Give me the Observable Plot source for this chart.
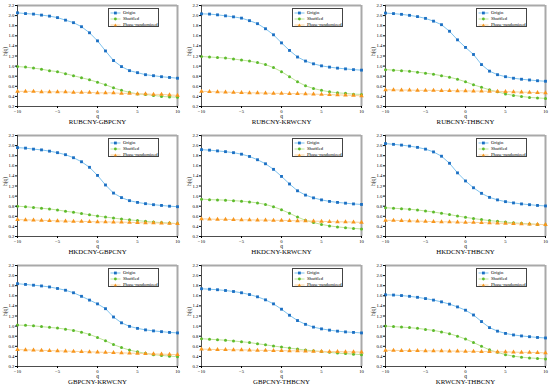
<!DOCTYPE html>
<html><head><meta charset="utf-8">
<script src="https://cdn.jsdelivr.net/npm/d3@7"></script>
<script src="https://cdn.jsdelivr.net/npm/@observablehq/plot@0.6"></script>
<style>
body{margin:0;background:#fff;}
#root{position:relative;width:550px;height:390px;overflow:hidden;font-family:"Liberation Serif","Times New Roman",serif;}
.panel{position:absolute;width:184px;height:130px;}
.legend{position:absolute;border:0.6px solid #444;background:#fff;box-sizing:border-box;width:51px;height:19px;padding-top:0.5px;}
.lrow{display:flex;align-items:center;height:6px;font-size:4.7px;line-height:6px;color:#000;}
.lrow svg{margin:0 2px 0 1px;}
</style></head>
<body><div id="root"></div>
<script>
// q values (x axis)
const q = [-10,-9,-8,-7,-6,-5,-4,-3,-2,-1,0,1,2,3,4,5,6,7,8,9,10];
const xDomain = [-10, 10];
const xTicks = [-10, -5, 0, 5, 10];
const yDomain = [0.2, 2.2];
const yTicks = [0.2,0.4,0.6,0.8,1.0,1.2,1.4,1.6,1.8,2.0,2.2];
const seriesNames = ["Origin", "Shuffled", "Phase-randomized"];
const titles = ["RUBCNY-GBPCNY","RUBCNY-KRWCNY","RUBCNY-THBCNY","HKDCNY-GBPCNY","HKDCNY-KRWCNY","HKDCNY-THBCNY","GBPCNY-KRWCNY","GBPCNY-THBCNY","KRWCNY-THBCNY"];

// Panel 1 RUBCNY-GBPCNY
const origin1 = [2.055,2.04,2.03,2.01,1.99,1.96,1.91,1.86,1.78,1.66,1.50,1.30,1.11,0.99,0.91,0.87,0.83,0.81,0.79,0.775,0.76];
const shuffled1 = [0.99,0.98,0.96,0.94,0.91,0.89,0.85,0.81,0.77,0.73,0.68,0.63,0.57,0.52,0.48,0.45,0.44,0.42,0.40,0.39,0.385];
const phase1 = [0.50,0.50,0.50,0.49,0.49,0.49,0.49,0.48,0.48,0.48,0.47,0.47,0.47,0.46,0.46,0.45,0.45,0.44,0.44,0.43,0.42];
// Panel 2 RUBCNY-KRWCNY
const origin2 = [2.035,2.03,2.015,1.995,1.975,1.95,1.90,1.84,1.74,1.62,1.46,1.31,1.18,1.10,1.045,1.005,0.98,0.96,0.945,0.93,0.92];
const shuffled2 = [1.19,1.18,1.17,1.16,1.14,1.12,1.10,1.07,1.03,0.97,0.89,0.79,0.69,0.61,0.556,0.52,0.49,0.47,0.46,0.445,0.44];
const phase2 = [0.50,0.495,0.49,0.485,0.48,0.475,0.47,0.47,0.465,0.46,0.46,0.455,0.455,0.45,0.445,0.44,0.435,0.43,0.425,0.42,0.41];
// Panel 3 RUBCNY-THBCNY
const origin3 = [2.05,2.04,2.025,2.005,1.98,1.945,1.89,1.82,1.69,1.52,1.37,1.23,1.03,0.90,0.83,0.79,0.76,0.74,0.725,0.71,0.70];
const shuffled3 = [0.93,0.92,0.91,0.90,0.88,0.86,0.84,0.81,0.78,0.74,0.69,0.63,0.58,0.53,0.49,0.45,0.42,0.40,0.38,0.37,0.36];
const phase3 = [0.53,0.53,0.525,0.525,0.52,0.52,0.52,0.515,0.515,0.51,0.51,0.505,0.505,0.50,0.50,0.495,0.49,0.485,0.48,0.475,0.47];
// Panel 4 HKDCNY-GBPCNY
const origin4 = [1.96,1.95,1.93,1.915,1.89,1.86,1.82,1.76,1.68,1.57,1.41,1.22,1.06,0.97,0.91,0.875,0.85,0.83,0.815,0.80,0.79];
const shuffled4 = [0.80,0.79,0.775,0.76,0.745,0.725,0.70,0.68,0.655,0.63,0.605,0.585,0.565,0.545,0.53,0.515,0.50,0.485,0.475,0.465,0.455];
const phase4 = [0.535,0.53,0.525,0.52,0.515,0.51,0.505,0.50,0.50,0.495,0.49,0.49,0.485,0.485,0.48,0.475,0.47,0.47,0.465,0.46,0.455];
// Panel 5 HKDCNY-KRWCNY
const origin5 = [1.92,1.91,1.895,1.88,1.86,1.83,1.785,1.72,1.64,1.53,1.39,1.24,1.105,1.02,0.965,0.925,0.895,0.875,0.86,0.845,0.835];
const shuffled5 = [0.94,0.93,0.925,0.92,0.91,0.90,0.885,0.865,0.835,0.79,0.73,0.66,0.585,0.52,0.475,0.44,0.41,0.39,0.375,0.36,0.35];
const phase5 = [0.55,0.545,0.54,0.54,0.535,0.53,0.53,0.525,0.525,0.52,0.52,0.515,0.51,0.51,0.505,0.50,0.495,0.49,0.49,0.485,0.48];
// Panel 6 HKDCNY-THBCNY
const origin6 = [2.04,2.025,2.01,1.99,1.965,1.93,1.875,1.79,1.65,1.46,1.30,1.165,1.055,0.975,0.925,0.89,0.865,0.845,0.83,0.815,0.805];
const shuffled6 = [0.77,0.76,0.75,0.74,0.725,0.705,0.685,0.66,0.635,0.605,0.58,0.555,0.535,0.515,0.50,0.485,0.47,0.46,0.45,0.44,0.435];
const phase6 = [0.52,0.52,0.515,0.51,0.505,0.50,0.495,0.49,0.49,0.485,0.48,0.48,0.475,0.47,0.465,0.46,0.455,0.45,0.445,0.44,0.435];
// Panel 7 GBPCNY-KRWCNY
const origin7 = [1.84,1.825,1.81,1.795,1.775,1.745,1.71,1.66,1.59,1.515,1.44,1.345,1.18,1.065,0.995,0.955,0.925,0.905,0.89,0.875,0.865];
const shuffled7 = [1.02,1.015,1.005,0.99,0.975,0.96,0.94,0.915,0.88,0.835,0.775,0.71,0.635,0.575,0.525,0.49,0.46,0.435,0.42,0.405,0.395];
const phase7 = [0.535,0.53,0.525,0.52,0.515,0.51,0.505,0.50,0.495,0.49,0.485,0.48,0.475,0.47,0.465,0.46,0.455,0.45,0.445,0.44,0.435];
// Panel 8 GBPCNY-THBCNY
const origin8 = [1.74,1.73,1.72,1.705,1.685,1.66,1.625,1.58,1.52,1.44,1.335,1.215,1.11,1.035,0.98,0.945,0.92,0.90,0.885,0.875,0.865];
const shuffled8 = [0.75,0.74,0.73,0.72,0.705,0.69,0.675,0.65,0.63,0.605,0.585,0.565,0.545,0.525,0.51,0.495,0.48,0.465,0.455,0.445,0.435];
const phase8 = [0.545,0.54,0.535,0.535,0.53,0.53,0.525,0.52,0.52,0.515,0.515,0.51,0.51,0.505,0.50,0.50,0.495,0.495,0.49,0.49,0.485];
// Panel 9 KRWCNY-THBCNY
const origin9 = [1.62,1.615,1.605,1.59,1.57,1.545,1.515,1.48,1.435,1.38,1.315,1.22,1.09,0.97,0.90,0.855,0.825,0.805,0.79,0.775,0.765];
const shuffled9 = [1.0,0.99,0.98,0.97,0.955,0.935,0.915,0.885,0.85,0.80,0.745,0.675,0.60,0.53,0.48,0.435,0.405,0.385,0.37,0.36,0.35];
const phase9 = [0.52,0.52,0.515,0.515,0.515,0.51,0.51,0.51,0.505,0.505,0.50,0.50,0.495,0.495,0.49,0.49,0.485,0.48,0.48,0.475,0.47];

const panelSeries = [
  [origin1, shuffled1, phase1],[origin2, shuffled2, phase2],[origin3, shuffled3, phase3],
  [origin4, shuffled4, phase4],[origin5, shuffled5, phase5],[origin6, shuffled6, phase6],
  [origin7, shuffled7, phase7],[origin8, shuffled8, phase8],[origin9, shuffled9, phase9]
];

const lineColors = ["#7fc3ef", "#bfe49a", "#fbd39c"];
const dotColors = ["#1b6fc2", "#5dbb2c", "#f7961e"];
const symbols = ["square", "circle", "triangle"];
const dotR = [1.6, 1.5, 1.7];

const root = document.getElementById("root");

titles.forEach((title, i) => {
  const col = i % 3, row = Math.floor(i / 3);
  const div = document.createElement("div");
  div.className = "panel";
  div.style.left = (col * 184) + "px";
  div.style.top = (row * 130) + "px";
  const marks = [
    Plot.ruleY([yDomain[1]], {stroke: "#a9a9a9", strokeWidth: 2}),
    Plot.ruleX([xDomain[1]], {stroke: "#a9a9a9", strokeWidth: 2}),
    Plot.ruleX([xDomain[0]], {stroke: "#000", strokeWidth: 0.7}),
    Plot.ruleY([yDomain[0]], {stroke: "#000", strokeWidth: 0.7}),
  ];
  panelSeries[i].forEach((vals, s) => {
    const data = q.map((qq, k) => ({q: qq, h: vals[k]}));
    marks.push(Plot.line(data, {x: "q", y: "h", stroke: lineColors[s], strokeWidth: 1}));
  });
  panelSeries[i].forEach((vals, s) => {
    const data = q.map((qq, k) => ({q: qq, h: vals[k]}));
    marks.push(Plot.dot(data, {x: "q", y: "h", symbol: () => symbols[s], fill: dotColors[s], stroke: "none", r: dotR[s]}));
  });
  marks.push(
    Plot.axisX({ticks: xTicks, tickSize: 2, tickPadding: 1.2, label: null, fontSize: 4.7}),
    Plot.axisY({ticks: yTicks, tickSize: 2, tickPadding: 1.2, label: null, fontSize: 4.7, tickFormat: d3.format(".1f")}),
    Plot.text(["q"], {frameAnchor: "bottom", dy: 11, text: d => d, fontSize: 5.5}),
    Plot.text(["h(q)"], {frameAnchor: "left", dx: -12.5, rotate: -90, text: d => d, fontSize: 5.5}),
    Plot.text([title], {frameAnchor: "bottom", dy: 17.5, text: d => d, fontSize: 6.8})
  );
  const svg = Plot.plot({
    width: 184, height: 130,
    marginLeft: 17, marginRight: 7, marginTop: 5, marginBottom: 24,
    style: {fontFamily: "'Liberation Serif','Times New Roman',serif", background: "transparent", color: "#000", overflow: "visible"},
    x: {domain: xDomain},
    y: {domain: yDomain},
    marks
  });
  div.appendChild(svg);
  // legend
  const leg = document.createElement("div");
  leg.className = "legend";
  leg.style.left = "108px";
  leg.style.top = "8px";
  seriesNames.forEach((name, s) => {
    const r = document.createElement("div");
    r.className = "lrow";
    const sym = symbols[s];
    let marker;
    if (sym === "square") marker = `<rect x="4" y="1.6" width="2.8" height="2.8" fill="${dotColors[s]}"/>`;
    else if (sym === "circle") marker = `<circle cx="5.4" cy="3" r="1.4" fill="${dotColors[s]}"/>`;
    else marker = `<path d="M5.4,1.4L7,4.3L3.8,4.3Z" fill="${dotColors[s]}"/>`;
    r.innerHTML = `<svg width="11" height="6"><line x1="0.5" x2="10.5" y1="3" y2="3" stroke="${lineColors[s]}" stroke-width="1"/>${marker}</svg><span>${name}</span>`;
    leg.appendChild(r);
  });
  div.appendChild(leg);
  root.appendChild(div);
});
</script>
</body></html>
